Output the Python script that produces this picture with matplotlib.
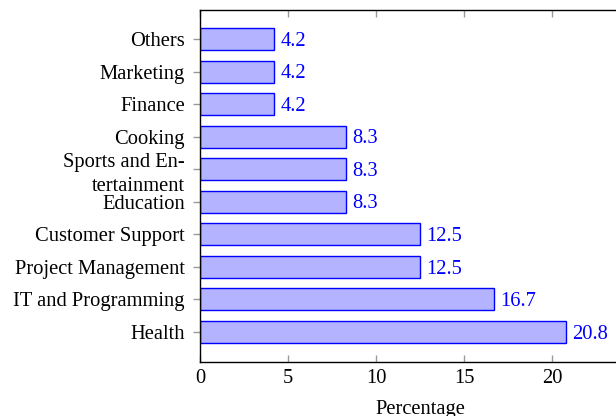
import matplotlib
matplotlib.use("Agg")
import matplotlib.pyplot as plt

categories = ["Health", "IT and Programming", "Project Management", "Customer Support",
              "Education", "Sports and En-\ntertainment", "Cooking", "Finance", "Marketing", "Others"]
values = [20.8, 16.7, 12.5, 12.5, 8.3, 8.3, 8.3, 4.2, 4.2, 4.2]
xticks = [0, 5, 10, 15, 20]

plt.rcParams['font.family'] = ['Liberation Serif', 'DejaVu Serif']
FS = 14.8

fig = plt.figure(figsize=(6.16, 4.16), dpi=100)
ax = fig.add_axes([200/616, (416-362)/416, 440/616, 352/416])

pos = list(range(len(categories)))
ax.barh(pos, values, height=0.676, color='#b3b3ff', edgecolor='blue', linewidth=1.0)
for p, v in zip(pos, values):
    ax.annotate(f"{v}", (v, p), xytext=(4.5, -1.5), textcoords='offset points',
                va='center', ha='left', color='blue', fontsize=FS)

ax.set_xlim(0, 25)
ax.set_ylim(-0.92, 9.89)
ax.set_yticks(pos)
ax.set_yticklabels(categories, fontsize=FS, linespacing=1.4)
ax.set_xticks(xticks)
ax.set_xticklabels([str(t) for t in xticks], fontsize=FS)
ax.tick_params(axis='y', direction='out', length=5, color='#999999', width=1, pad=6)
ax.tick_params(axis='x', direction='in', length=5, color='#999999', width=1, top=True, pad=5)
ax.set_xlabel("Percentage", fontsize=FS, labelpad=9)
for s in ['left', 'bottom', 'top', 'right']:
    ax.spines[s].set_linewidth(1.0)
    ax.spines[s].set_color('black')

fig.savefig("out.png", dpi=100)
